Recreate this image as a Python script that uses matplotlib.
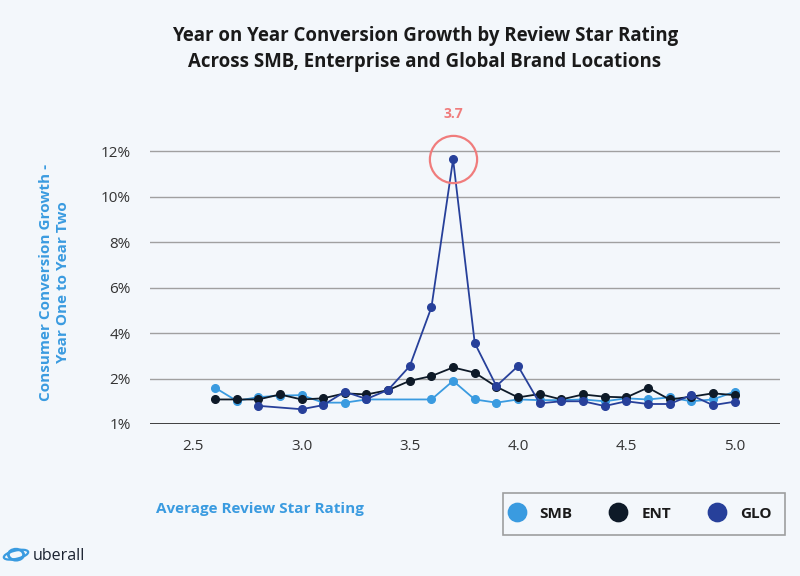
import numpy as np
import matplotlib.pyplot as plt
from matplotlib.patches import Ellipse, Circle

# data (growth in %, axis bottom is labelled "1%")
smb_x = [2.6, 2.7, 2.8, 2.9, 3.0, 3.1, 3.2, 3.3, 3.6, 3.7, 3.8, 3.9, 4.0, 4.1, 4.2,
         4.3, 4.4, 4.5, 4.6, 4.7, 4.8, 4.9, 5.0]
smb_y = [1.6, 1.02, 1.18, 1.25, 1.27, 0.94, 0.94, 1.08, 1.08, 1.9, 1.08, 0.94, 1.08,
         1.05, 1.05, 1.08, 1.0, 1.13, 1.08, 1.17, 1.0, 1.08, 1.42]
ent_x = [2.6, 2.7, 2.8, 2.9, 3.0, 3.1, 3.2, 3.3, 3.4, 3.5, 3.6, 3.7, 3.8, 3.9, 4.0,
         4.1, 4.2, 4.3, 4.4, 4.5, 4.6, 4.7, 4.8, 4.9, 5.0]
ent_y = [1.08, 1.08, 1.08, 1.3, 1.08, 1.13, 1.35, 1.3, 1.49, 1.9, 2.11, 2.49, 2.26,
         1.64, 1.17, 1.32, 1.08, 1.3, 1.2, 1.17, 1.6, 1.08, 1.2, 1.35, 1.27]
glo_x = [2.8, 3.0, 3.1, 3.2, 3.3, 3.4, 3.5, 3.6, 3.7, 3.8, 3.9, 4.0, 4.1, 4.2, 4.3,
         4.4, 4.5, 4.6, 4.7, 4.8, 4.9, 5.0]
glo_y = [0.8, 0.65, 0.83, 1.42, 1.1, 1.5, 2.55, 5.14, 11.65, 3.56, 1.67, 2.55, 0.91,
         1.0, 1.0, 0.79, 1.0, 0.88, 0.88, 1.27, 0.83, 0.98]
y_ticks = [0, 2, 4, 6, 8, 10, 12]
y_labels = ["1%", "2%", "4%", "6%", "8%", "10%", "12%"]
x_ticks = [2.5, 3.0, 3.5, 4.0, 4.5, 5.0]

BG = "#F3F7FB"
C_SMB = "#3A9BE0"
C_ENT = "#0E1A28"
C_GLO = "#27409A"
C_RED = "#F07C7C"
C_LABEL = "#3A9BE0"

plt.rcParams["font.family"] = ["Open Sans", "DejaVu Sans"]

fig = plt.figure(figsize=(8, 5.76), dpi=100, facecolor=BG)
ax = fig.add_axes([0.1875, 0.2639, 0.7875, 0.493])
ax.set_facecolor(BG)

for x, y, c, lab in [(smb_x, smb_y, C_SMB, "SMB"), (ent_x, ent_y, C_ENT, "ENT"),
                     (glo_x, glo_y, C_GLO, "GLO")]:
    ax.plot(x, y, color=c, lw=1.3, marker="o", ms=5.5, label=lab, zorder=3)

ax.set_xlim(2.30, 5.21)
ax.set_ylim(0, 12.5)
ax.set_yticks(y_ticks)
ax.set_yticklabels(y_labels)
ax.set_xticks(x_ticks)
ax.set_xticklabels([f"{v:.1f}" for v in x_ticks])
ax.tick_params(length=0, labelsize=11, colors="#333333", pad=14)
ax.tick_params(axis="x", pad=11)
for v in y_ticks[1:]:
    ax.axhline(v, color="#A0A0A0", lw=1, zorder=1)
ax.axhline(0, color="#2E2E2E", lw=2, zorder=2)
for s in ax.spines.values():
    s.set_visible(False)

# highlight the peak
i = int(np.argmax(glo_y))
ax.plot(glo_x[i], glo_y[i], marker="o", ms=34, mfc="none", mec=C_RED, mew=1.6,
        zorder=4, clip_on=False)
ax.annotate(f"{glo_x[i]:.1f}", (glo_x[i], glo_y[i]), xytext=(0, 33),
            textcoords="offset points", ha="center", va="center",
            color=C_RED, fontsize=10, fontweight="bold")

fig.text(0.531, 0.915, "Year on Year Conversion Growth by Review Star Rating\n"
         "Across SMB, Enterprise and Global Brand Locations",
         ha="center", va="center", fontsize=13.4, fontweight="bold",
         color="#1A1A1A", linespacing=1.45)
fig.text(0.068, 0.51, "Consumer Conversion Growth -\nYear One to Year Two",
         rotation=90, ha="center", va="center", fontsize=11, fontweight="bold",
         color=C_LABEL, linespacing=1.3)
fig.text(0.325, 0.117, "Average Review Star Rating", ha="center", va="center",
         fontsize=11, fontweight="bold", color=C_LABEL)

leg = fig.legend(loc="center", bbox_to_anchor=(0.805, 0.108), ncol=3, frameon=True,
                 fancybox=False, edgecolor="#888888", facecolor=BG, fontsize=11,
                 handlelength=0, handletextpad=1.5, columnspacing=3.0,
                 borderpad=0.9, borderaxespad=0, markerscale=2.4)
leg.get_frame().set_linewidth(1.2)
for line in leg.get_lines():
    line.set_linestyle("none")
for t in leg.get_texts():
    t.set_fontweight("bold")
    t.set_color("#1A1A1A")

# logo
fig.patches.append(Circle((0.02, 0.037), 0.0095, transform=fig.transFigure,
                          fill=False, ec="#3A9BE0", lw=2.0))
fig.patches.append(Ellipse((0.02, 0.037), 0.032, 0.014, angle=20,
                           transform=fig.transFigure, fill=False, ec="#3A9BE0", lw=1.6))
fig.text(0.041, 0.035, "uberall", ha="left", va="center", fontsize=11.5,
         color="#1A2230")

fig.savefig("out.png", dpi=100, facecolor=BG)
